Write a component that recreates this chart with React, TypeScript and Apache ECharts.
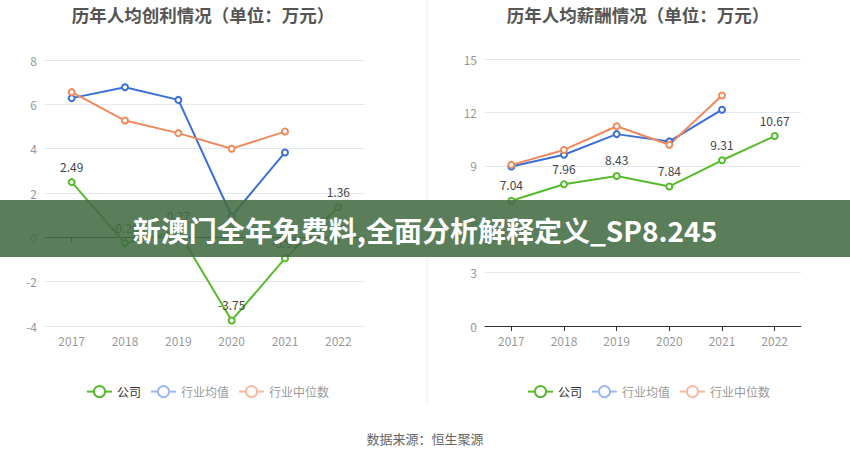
import React, { useEffect, useRef } from "react";
import * as echarts from "echarts";

const years = ["2017", "2018", "2019", "2020", "2021", "2022"];
const profitCompany = [2.49, -0.26, 0.27, -3.75, -0.95, 1.36];
const profitAvg: (number | string)[] = [6.28, 6.77, 6.2, 0.95, 3.83, "-"];
const profitMedian: (number | string)[] = [6.55, 5.27, 4.7, 4.0, 4.77, "-"];
const salaryCompany = [7.04, 7.96, 8.43, 7.84, 9.31, 10.67];
const salaryAvg: (number | string)[] = [8.96, 9.62, 10.78, 10.37, 12.15, "-"];
const salaryMedian: (number | string)[] = [9.05, 9.89, 11.22, 10.18, 12.95, "-"];
const legendNames = ["公司", "行业均值", "行业中位数"];

const GREEN = "#56bb2c";
const BLUE = "#3b6fd8";
const ORANGE = "#f0895b";
const FONT = "'Noto Sans CJK SC', 'Noto Sans', sans-serif";

export default function App() {
  const ref = useRef<HTMLDivElement>(null);
  useEffect(() => {
    if (!ref.current) return;
    const chart = echarts.init(ref.current, undefined, { renderer: "svg" });
    const mkSeries = (name: string, data: any[], color: string, xi: number, yi: number, label: boolean) => ({
      name,
      type: "line",
      xAxisIndex: xi,
      yAxisIndex: yi,
      data,
      symbol: "emptyCircle",
      symbolSize: 6,
      lineStyle: { width: 2, color },
      itemStyle: { color, borderWidth: 2 },
      label: label
        ? { show: true, position: "top", color: "#444", fontSize: 12, fontFamily: FONT, distance: 6 }
        : { show: false },
      z: label ? 3 : 2,
    });
    const legendData = [
      { name: "公司", textStyle: { color: "#333" } },
      { name: "行业均值", itemStyle: { color: "#9db8ee" }, lineStyle: { color: "#9db8ee" }, textStyle: { color: "#999" } },
      { name: "行业中位数", itemStyle: { color: "#f6bba2" }, lineStyle: { color: "#f6bba2" }, textStyle: { color: "#999" } },
    ];
    const mkLegend = (left: number) => ({
      left,
      top: 380,
      itemWidth: 25,
      itemHeight: 14,
      itemGap: 9,
      textStyle: { fontSize: 12, fontFamily: FONT, color: "#999" },
      data: legendData,
    });
    const catAxisBase = {
      type: "category",
      data: years,
      boundaryGap: true,
      axisLabel: { color: "#999", fontSize: 12, fontFamily: FONT, margin: 8 },
    };
    const option: any = {
      animation: false,
      textStyle: { fontFamily: FONT },
      legend: [mkLegend(81), mkLegend(522)],
      grid: [
        { left: 45, right: 485, top: 60, bottom: 133 },
        { left: 485, right: 49, top: 59, bottom: 133 },
      ],
      xAxis: [
        {
          ...catAxisBase,
          gridIndex: 0,
          position: "bottom",
          axisLine: { show: false, onZero: false },
          axisTick: { show: false },
        },
        {
          ...catAxisBase,
          gridIndex: 0,
          position: "bottom",
          axisLine: { show: true, onZero: true, lineStyle: { color: "#333" } },
          axisTick: { show: true, alignWithLabel: true, length: 5, lineStyle: { color: "#333" } },
          axisLabel: { show: false },
        },
        {
          ...catAxisBase,
          gridIndex: 1,
          position: "bottom",
          axisLine: { show: true, lineStyle: { color: "#333" } },
          axisTick: { show: true, alignWithLabel: true, length: 5, lineStyle: { color: "#333" } },
        },
      ],
      yAxis: [
        {
          type: "value",
          gridIndex: 0,
          min: -4,
          max: 8,
          interval: 2,
          axisLine: { show: false },
          axisTick: { show: false },
          axisLabel: { color: "#999", fontSize: 12, fontFamily: FONT, margin: 8 },
          splitLine: { lineStyle: { color: "#e3e8f0" } },
        },
        {
          type: "value",
          gridIndex: 1,
          min: 0,
          max: 15,
          interval: 3,
          axisLine: { show: false },
          axisTick: { show: false },
          axisLabel: { color: "#999", fontSize: 12, fontFamily: FONT, margin: 8 },
          splitLine: { lineStyle: { color: "#e3e8f0" } },
        },
      ],
      series: [
        mkSeries(legendNames[1], profitAvg, BLUE, 0, 0, false),
        mkSeries(legendNames[2], profitMedian, ORANGE, 0, 0, false),
        mkSeries(legendNames[0], profitCompany, GREEN, 0, 0, true),
        mkSeries(legendNames[1], salaryAvg, BLUE, 2, 1, false),
        mkSeries(legendNames[2], salaryMedian, ORANGE, 2, 1, false),
        mkSeries(legendNames[0], salaryCompany, GREEN, 2, 1, true),
      ],
      graphic: [
        {
          type: "line",
          shape: { x1: 427, y1: 0, x2: 427, y2: 405 },
          style: { stroke: "#eeeeee", lineWidth: 1 },
          z: 0,
        },
        {
          type: "text",
          x: 203,
          y: 14,
          style: {
            text: "历年人均创利情况（单位：万元）",
            fill: "#555",
            font: `bold 17.5px ${FONT}`,
            textAlign: "center",
            textVerticalAlign: "middle",
          },
        },
        {
          type: "text",
          x: 638,
          y: 14,
          style: {
            text: "历年人均薪酬情况（单位：万元）",
            fill: "#555",
            font: `bold 17.5px ${FONT}`,
            textAlign: "center",
            textVerticalAlign: "middle",
          },
        },
        {
          type: "text",
          x: 425,
          y: 438,
          style: {
            text: "数据来源：恒生聚源",
            fill: "#666",
            font: `13px ${FONT}`,
            textAlign: "center",
            textVerticalAlign: "middle",
          },
        },
        {
          type: "rect",
          shape: { x: 0, y: 200, width: 850, height: 57 },
          style: { fill: "rgba(67,107,67,0.88)" },
          z: 100,
        },
        {
          type: "text",
          x: 425,
          y: 230,
          style: {
            text: "新澳门全年免费料,全面分析解释定义_SP8.245",
            fill: "#ffffff",
            font: `bold 28px ${FONT}`,
            textAlign: "center",
            textVerticalAlign: "middle",
          },
          z: 101,
        },
      ],
    };
    chart.setOption(option);
    return () => chart.dispose();
  }, []);
  return (
    <div
      ref={ref}
      style={{ position: "fixed", left: 0, top: 0, width: 850, height: 459, background: "#fff" }}
    />
  );
}
